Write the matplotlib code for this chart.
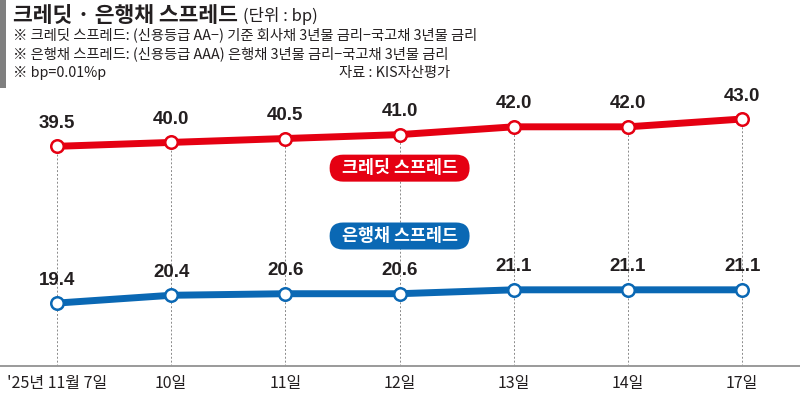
import matplotlib
matplotlib.use("Agg")
import matplotlib.pyplot as plt
from matplotlib.patches import FancyBboxPatch, Rectangle

plt.rcParams['font.family'] = ['Noto Sans CJK KR', 'DejaVu Sans']

dates = ["'25년 11월 7일", "10일", "11일", "12일", "13일", "14일", "17일"]
credit = [39.5, 40.0, 40.5, 41.0, 42.0, 42.0, 43.0]
bank = [19.4, 20.4, 20.6, 20.6, 21.1, 21.1, 21.1]

RED = '#e50012'
BLUE = '#0a68b4'
TXT = '#231f20'

fig = plt.figure(figsize=(8, 3.93), dpi=100)
ax = fig.add_axes([0, 0, 1, 1])
ax.set_xlim(-0.499, 6.506)
ax.set_ylim(7.87, 58.26)
ax.axis('off')

x = list(range(len(dates)))
base = 11.33

# 점선 가이드
ax.vlines(x, base, credit, colors='#8a8a8a', linestyles=(0, (2, 2)), linewidth=0.7, zorder=1)
ax.axhline(base, color='#9a9a9a', linewidth=1.4, zorder=1)

for vals, c in [(credit, RED), (bank, BLUE)]:
    ax.plot(x, vals, color=c, linewidth=5, solid_capstyle='round', zorder=3,
            marker='o', markersize=9, markerfacecolor='white',
            markeredgecolor=c, markeredgewidth=1.8)
    for xi, v in zip(x, vals):
        ax.annotate(f'{v:.1f}', (xi, v), xytext=(0, 16.5), textcoords='offset points',
                    ha='center', va='center', fontsize=13.5, fontweight='bold',
                    color=TXT, family=['Liberation Sans', 'DejaVu Sans'])

for xi, d in zip(x, dates):
    ax.text(xi, base - 2.2, d, ha='center', va='center', fontsize=11.5, color=TXT)

# 범례 배지
for label, yc, c in [('크레딧 스프레드', 36.7, RED), ('은행채 스프레드', 28.0, BLUE)]:
    xc_ax, yc_ax = ax.transAxes.inverted().transform(ax.transData.transform((3, yc)))
    w, h = 140 / 800, 27 / 393
    ax.add_patch(FancyBboxPatch((xc_ax - w / 2, yc_ax - h / 2), w, h,
                                boxstyle='round,pad=0,rounding_size=0.0169',
                                mutation_aspect=800 / 393, transform=ax.transAxes,
                                facecolor=c, edgecolor='none', zorder=4))
    ax.text(xc_ax, yc_ax, label, transform=ax.transAxes, ha='center', va='center',
            fontsize=12.5, fontweight='bold', color='white', zorder=5)

# 제목 영역
fig.patches.append(Rectangle((0, 1 - 88 / 393), 6 / 800, 88 / 393, transform=fig.transFigure,
                             facecolor='#7f7f7f', edgecolor='none'))
fig.text(13 / 800, 1 - 15 / 393, '크레딧 · 은행채 스프레드', fontsize=15.5, fontweight='bold',
         color=TXT, va='center', ha='left')
fig.text(243 / 800, 1 - 16 / 393, '(단위 : bp)', fontsize=12, color=TXT, va='center', ha='left')
notes = ['※ 크레딧 스프레드: (신용등급 AA−) 기준 회사채 3년물 금리−국고채 3년물 금리',
         '※ 은행채 스프레드: (신용등급 AAA) 은행채 3년물 금리−국고채 3년물 금리',
         '※ bp=0.01%p']
for i, n in enumerate(notes):
    fig.text(13 / 800, 1 - (35 + 19 * i) / 393, n, fontsize=10.3, color=TXT, va='center', ha='left')
fig.text(450 / 800, 1 - 73 / 393, '자료 : KIS자산평가', fontsize=10.3, color=TXT, va='center', ha='right')

fig.savefig('out.png', dpi=100)
